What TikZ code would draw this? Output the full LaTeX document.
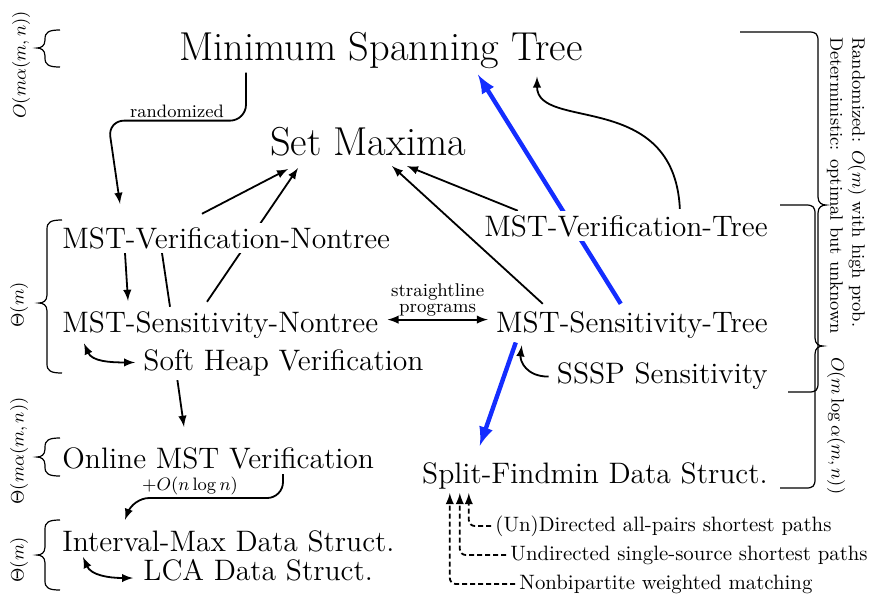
\documentclass[tikz,border=0pt]{standalone}
\usepackage{amsmath}
\usepackage{amssymb}
\usepackage{tikz}
\usetikzlibrary{calc,backgrounds}
\tikzstyle{chart} = [x = .5pt, y = -.5pt]
\definecolor{reduceBlue}{RGB}{20,45,255}
\newcommand{\problemFont}{\fontsize{14.8}{17}\selectfont}
\newcommand{\bigProblemFont}{\fontsize{20.2}{24}\selectfont}
\tikzstyle{problem} = [font=\problemFont, fill=white, inner xsep=0pt, inner ysep=2pt]
\tikzstyle{bigProblem} = [problem, font=\bigProblemFont]
\tikzstyle{reduction} = [->, >=latex, line width=.9pt]
\tikzstyle{twoWay} = [<->, >=latex, line width=.9pt]
\tikzstyle{fastReduction} = [->, >=latex, line width=2.2pt, color=reduceBlue]
\tikzstyle{application} = [->, >=latex, line width=.9pt, dash pattern=on 2.5pt off 1.5pt, rounded corners=3]
\tikzstyle{braceLine} = [line width=.6pt]
\tikzstyle{boundText} = [font=\small]
\tikzstyle{edgeLabel} = [font=\small, inner sep=1pt]
\tikzstyle{useText} = [font=\fontsize{10.4}{12.5}\selectfont, inner sep=2pt]
\newcommand{\leftBound}[4]{
  \draw [braceLine] (#1,#2) .. controls (#1-11,#2) and (#1-15,#2+2) .. (#1-15,#2+9)
    -- (#1-15,#3-8) .. controls (#1-15,#3-2) and (#1-19,#3) .. (#1-23,#3)
    .. controls (#1-19,#3) and (#1-15,#3+2) .. (#1-15,#3+8)
    -- (#1-15,#4-9) .. controls (#1-15,#4-2) and (#1-11,#4) .. (#1,#4);
}
\newcommand{\rightBound}[6]{
  \draw [braceLine] (#1,#4) -- (#3-9,#4) .. controls (#3-2,#4) and (#3,#4+2) .. (#3,#4+9)
    -- (#3,#5-8) .. controls (#3,#5-2) and (#3+4,#5) .. (#3+8,#5)
    .. controls (#3+4,#5) and (#3,#5+2) .. (#3,#5+8)
    -- (#3,#6-9) .. controls (#3,#6-2) and (#3-2,#6) .. (#3-9,#6) -- (#2,#6);
}

\begin{document}
\begin{tikzpicture}[chart]
  \useasboundingbox (0,0) rectangle (881,595);

  \node [bigProblem, anchor=base] (mst) at (381,60) {Minimum Spanning Tree};
  \node [bigProblem, anchor=base] (setMaxima) at (368,155) {Set Maxima};
  \node [problem, anchor=base west] (verNontree) at (62,248) {MST-Verification-Nontree};
  \node [problem, anchor=base west] (senNontree) at (62,332) {MST-Sensitivity-Nontree};
  \node [problem, anchor=base west] (softHeap) at (143,370) {Soft Heap Verification};
  \node [problem, anchor=base east] (verTree) at (768,236) {MST-Verification-Tree};
  \node [problem, anchor=base east] (senTree) at (768,332) {MST-Sensitivity-Tree};
  \node [problem, anchor=base east] (ssspSen) at (768,383) {SSSP Sensitivity};
  \node [problem, anchor=base west] (online) at (62,468) {Online MST Verification};
  \node [problem, anchor=base west] (intervalMax) at (62,551) {Interval-Max Data Struct.};
  \node [problem, anchor=base west] (lca) at (143,580) {LCA Data Struct.};
  \node [problem, anchor=base east] (splitFindmin) at (768,483) {Split-Findmin Data Struct.};
  \node [useText, anchor=west] (apsp) at (491,526) {(Un)Directed all-pairs shortest paths};
  \node [useText, anchor=west] (sssp) at (506,555) {Undirected single-source shortest paths};
  \node [useText, anchor=west] (matching) at (515,584) {Nonbipartite weighted matching};

  \begin{pgfonlayer}{background}
    \draw [reduction, rounded corners=8] ($(mst.south)+(-135,0)$) -- ++(0,48)
      -- node [edgeLabel, above] {randomized} ++(-138,0) -- ($(verNontree.north west)+(58,-19)$);
    \draw [reduction] ($(verNontree.north west)+(140,-9)$) -- ($(setMaxima.south)+(-80,9)$);
    \draw [reduction] ($(senNontree.north west)+(145,-5)$) -- ($(setMaxima.south)+(-70,8)$);
    \draw [line width=.9pt] ($(senNontree.north west)+(108,0)$) -- ($(verNontree.south west)+(100,0)$);
    \draw [reduction] ($(verNontree.south west)+(63,0)$) -- ($(senNontree.north west)+(66,-6)$);
    \draw [twoWay] ($(senNontree.south west)+(22,1)$) .. controls +(8,18) and +(-25,0) .. ($(softHeap.west)+(-8,0)$);
    \draw [reduction] ($(softHeap.south west)+(34,-3)$) -- ($(online.north west)+(122,-16)$);
    \draw [reduction, rounded corners=8] ($(online.south west)+(221,1)$) -- ++(0,24)
      -- node [edgeLabel, above, pos=.62] {$+O(n\log n)$} ++(-150,0) -- ($(intervalMax.north west)+(63,-6)$);
    \draw [twoWay] ($(intervalMax.south west)+(21,1)$) .. controls +(8,18) and +(-25,0) .. ($(lca.base west)+(-10,-2)$);
    \draw [reduction] ($(verTree.north west)+(34,0)$) -- ($(setMaxima.south)+(39,6)$);
    \draw [reduction] ($(senTree.north west)+(47,-3)$) -- ($(setMaxima.south)+(24,6)$);
    \draw [reduction] ($(verTree.north west)+(196,-2)$) .. controls +(-6,-120) and +(0,55) .. ($(mst.south)+(156,4)$);
    \draw [fastReduction] ($(senTree.north west)+(125,-3)$) -- ($(mst.south)+(97,2)$);
    \draw [fastReduction] ($(senTree.south west)+(20,0)$) -- ($(splitFindmin.north west)+(58,-12)$);
    \draw [reduction] ($(ssspSen.west)+(-8,1)$) .. controls +(-22,0) and +(-2,16) .. ($(senTree.south west)+(26,3)$);
    \draw [twoWay] ($(senNontree.east)+(9,-5)$) -- node [edgeLabel, above, align=center, font=\fontsize{9.2}{8}\selectfont] {straightline\\programs} ($(senTree.west)+(-8,-5)$);
    \draw [application] (apsp.west) -| ($(splitFindmin.south west)+(47,0)$);
    \draw [application] (sssp.west) -| ($(splitFindmin.south west)+(38,0)$);
    \draw [application] (matching.west) -| ($(splitFindmin.south west)+(28,0)$);
  \end{pgfonlayer}

  \leftBound{60}{30}{48}{67}
  \leftBound{62}{220}{303}{373}
  \leftBound{60}{438}{457}{476}
  \leftBound{60}{520}{555}{590}
  \node [boundText, rotate=90] (mstBound) at (21,65) {$O(m\alpha(m,n))$};
  \node [boundText, rotate=90] (nontreeBound) at (19,305) {$\Theta(m)$};
  \node [boundText, rotate=90] (onlineBound) at (19,451) {$\Theta(m\alpha(m,n))$};
  \node [boundText, rotate=90] (intervalBound) at (19,560) {$\Theta(m)$};

  \rightBound{740}{788}{818}{32}{205}{392}
  \rightBound{780}{780}{815}{205}{346}{488}
  \node [boundText, rotate=-90, anchor=north west, align=left] (treeBound) at (873,30)
    {Randomized: $O(m)$ with high prob.\\Deterministic: optimal but unknown};
  \node [boundText, rotate=-90, anchor=west] (splitBound) at (836,350) {$O(m\log\alpha(m,n))$};
\end{tikzpicture}
\end{document}
